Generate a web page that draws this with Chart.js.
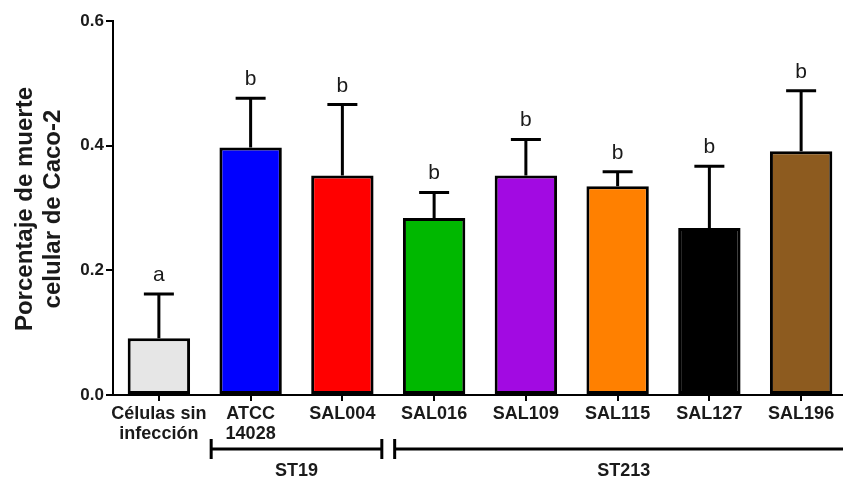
<!DOCTYPE html>
<html>
<head>
<meta charset="utf-8">
<script src="https://cdn.jsdelivr.net/npm/chart.js@4.4.1/dist/chart.umd.min.js"></script>
<style>
  html, body { margin: 0; padding: 0; background: #fff; overflow: hidden; }
</style>
</head>
<body>
<canvas id="myChart" width="847" height="482"></canvas>
<script>
// datos
const categories = [['Células sin', 'infección'], ['ATCC', '14028'], 'SAL004', 'SAL016', 'SAL109', 'SAL115', 'SAL127', 'SAL196'];
const means = [0.091, 0.397, 0.352, 0.284, 0.352, 0.335, 0.268, 0.391];
const sd = [0.071, 0.079, 0.114, 0.041, 0.058, 0.023, 0.099, 0.097];
const letters = ['a', 'b', 'b', 'b', 'b', 'b', 'b', 'b'];
const barColors = ['#e6e6e6', '#0000ff', '#ff0000', '#00b800', '#a20ae2', '#ff8000', '#000000', '#8d5b1f'];
const yTicks = [0, 0.2, 0.4, 0.6];
const groups = [
  { label: 'ST19', from: 1, to: 2 },
  { label: 'ST213', from: 3, to: 7 }
];

const ink = '#1a1a1a';

// barras de error (solo hacia arriba) + letras
const errorBars = {
  id: 'errorBars',
  afterDatasetsDraw(chart) {
    const { ctx, scales: { y } } = chart;
    const meta = chart.getDatasetMeta(0);
    ctx.save();
    ctx.strokeStyle = '#000';
    ctx.lineWidth = 3;
    meta.data.forEach((bar, i) => {
      const top = y.getPixelForValue(means[i] + sd[i]);
      const x = bar.x;
      ctx.beginPath();
      ctx.moveTo(x, bar.y);
      ctx.lineTo(x, top);
      ctx.moveTo(x - 15, top);
      ctx.lineTo(x + 15, top);
      ctx.stroke();

      ctx.fillStyle = ink;
      ctx.font = '21px Arial, "Liberation Sans", sans-serif';
      ctx.textAlign = 'center';
      ctx.textBaseline = 'alphabetic';
      ctx.fillText(letters[i], x, top - 13);
    });
    ctx.restore();
  }
};

// titulo eje y y corchetes de grupos
const extras = {
  id: 'extras',
  afterDraw(chart) {
    const { ctx, scales: { x } } = chart;
    ctx.save();
    // titulo eje Y
    ctx.fillStyle = ink;
    ctx.font = 'bold 24px Arial, "Liberation Sans", sans-serif';
    ctx.textAlign = 'center';
    ctx.textBaseline = 'middle';
    ctx.translate(0, 209);
    ctx.rotate(-Math.PI / 2);
    ctx.fillText('Porcentaje de muerte', 0, 25);
    ctx.fillText('celular de Caco-2', 0, 53);
    ctx.restore();

    // corchetes
    ctx.save();
    const half = (x.getPixelForValue(1) - x.getPixelForValue(0)) * 0.43;
    ctx.strokeStyle = '#000';
    ctx.lineWidth = 3;
    ctx.fillStyle = ink;
    ctx.font = 'bold 18px Arial, "Liberation Sans", sans-serif';
    ctx.textAlign = 'center';
    ctx.textBaseline = 'middle';
    const yLine = 449;
    const last = categories.length - 1;
    groups.forEach(g => {
      const x1 = x.getPixelForValue(g.from) - half;
      // el ultimo grupo sigue hasta el borde derecho
      const x2 = g.to === last ? x.right + 6 : x.getPixelForValue(g.to) + half;
      ctx.beginPath();
      ctx.moveTo(x1, yLine); ctx.lineTo(x2, yLine);
      ctx.moveTo(x1, yLine - 10); ctx.lineTo(x1, yLine + 10);
      ctx.moveTo(x2, yLine - 10); ctx.lineTo(x2, yLine + 10);
      ctx.stroke();
      ctx.fillText(g.label, (x1 + x2) / 2, 471);
    });
    ctx.restore();
  }
};

const myCt = document.getElementById('myChart');

const myChart = new Chart(myCt, {
  type: 'bar',
  data: {
    labels: categories,
    datasets: [{
      data: means,
      backgroundColor: barColors,
      borderColor: '#000',
      borderWidth: 3,
      borderSkipped: false,
      barPercentage: 0.68,
      categoryPercentage: 1
    }]
  },
  options: {
    responsive: false,
    animation: false,
    layout: { padding: { top: 21, left: 0, right: 0, bottom: 0 } },
    plugins: {
      legend: { display: false },
      tooltip: { enabled: false }
    },
    scales: {
      x: {
        afterFit: (s) => { s.height = 87; },
        grid: { drawOnChartArea: false, offset: false, tickLength: 6, color: '#000', lineWidth: 2 },
        border: { color: '#000', width: 2 },
        ticks: {
          color: ink,
          padding: 3,
          maxRotation: 0,
          autoSkip: false,
          font: { family: 'Arial, "Liberation Sans", sans-serif', size: 18, weight: 'bold', lineHeight: 1.1 }
        }
      },
      y: {
        min: 0,
        max: 0.6,
        afterFit: (s) => { s.width = 113; },
        afterBuildTicks: (s) => { s.ticks = yTicks.map(v => ({ value: v })); },
        grid: { drawOnChartArea: false, tickLength: 7, color: '#000', lineWidth: 2 },
        border: { color: '#000', width: 2 },
        ticks: {
          color: ink,
          padding: 2,
          callback: (v) => v.toFixed(1),
          font: { family: 'Arial, "Liberation Sans", sans-serif', size: 17, weight: 'bold' }
        }
      }
    }
  },
  plugins: [errorBars, extras]
});
</script>
</body>
</html>
